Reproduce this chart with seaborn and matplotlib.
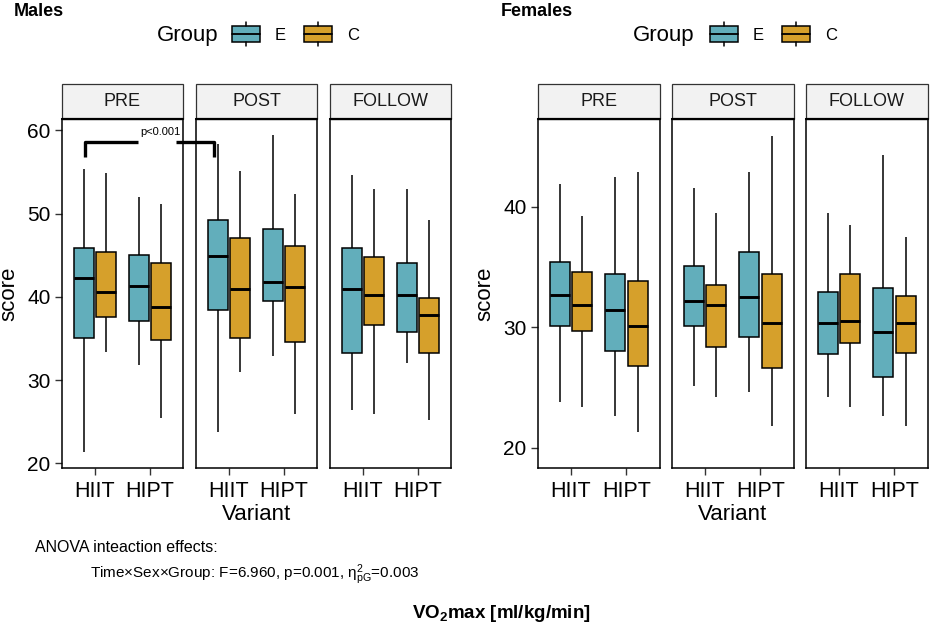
import numpy as np
import pandas as pd
import matplotlib
matplotlib.use('Agg')
import matplotlib.pyplot as plt
import seaborn as sns
from matplotlib.legend_handler import HandlerBase
from matplotlib.patches import Rectangle, Patch
from matplotlib.lines import Line2D

sns.set_theme(style='white')
plt.rcParams['font.family'] = ['Liberation Sans', 'DejaVu Sans']
plt.rcParams['mathtext.fontset'] = 'custom'
plt.rcParams['mathtext.rm'] = 'Liberation Sans'
plt.rcParams['mathtext.it'] = 'Liberation Sans:italic'
plt.rcParams['mathtext.bf'] = 'Liberation Sans:bold'
plt.rcParams['text.color'] = 'black'
plt.rcParams['axes.labelcolor'] = 'black'

# categorias
times = ['PRE', 'POST', 'FOLLOW']
variants = ['HIIT', 'HIPT']
groups = ['E', 'C']
cores = {'E': '#62AEBB', 'C': '#D6A02B'}

# resumo de 5 numeros: min, q1, mediana, q3, max
# ordem: PRE-HIIT, PRE-HIPT, POST-HIIT, POST-HIPT, FOLLOW-HIIT, FOLLOW-HIPT
males_E = [[21.3, 35.1, 42.2, 45.9, 55.4],
           [31.8, 37.1, 41.35, 45.0, 52.0],
           [23.8, 38.4, 44.95, 49.2, 58.3],
           [32.9, 39.5, 41.75, 48.1, 59.4],
           [26.4, 33.3, 40.9, 45.9, 54.6],
           [32.1, 35.8, 40.2, 44.1, 52.9]]
males_C = [[33.35, 37.6, 40.55, 45.4, 54.9],
           [25.5, 34.75, 38.8, 44.0, 51.15],
           [31.0, 35.1, 40.9, 47.1, 55.1],
           [25.95, 34.55, 41.2, 46.1, 52.3],
           [25.95, 36.55, 40.2, 44.8, 52.9],
           [25.15, 33.3, 37.8, 39.9, 49.2]]
females_E = [[23.8, 30.1, 32.7, 35.4, 41.85],
             [22.6, 28.0, 31.4, 34.4, 42.45],
             [25.1, 30.1, 32.15, 35.1, 41.5],
             [24.65, 29.2, 32.5, 36.2, 42.9],
             [24.2, 27.8, 30.3, 32.9, 39.45],
             [22.6, 25.9, 29.6, 33.25, 44.3]]
females_C = [[23.4, 29.7, 31.8, 34.6, 39.2],
             [21.3, 26.8, 30.1, 33.8, 42.9],
             [24.2, 28.35, 31.8, 33.5, 39.45],
             [21.8, 26.6, 30.3, 34.4, 45.85],
             [23.4, 28.7, 30.5, 34.4, 38.45],
             [21.8, 27.85, 30.3, 32.6, 37.5]]

males_yticks = [20, 30, 40, 50, 60]
females_yticks = [20, 30, 40]

# monta dataframe longo
linhas = []
for sexo, dados in [('Males', {'E': males_E, 'C': males_C}),
                    ('Females', {'E': females_E, 'C': females_C})]:
    for g in groups:
        k = 0
        for t in times:
            for v in variants:
                for val in dados[g][k]:
                    linhas.append((sexo, t, v, g, val))
                k += 1
df = pd.DataFrame(linhas, columns=['Sex', 'Time', 'Variant', 'Group', 'score'])


class BoxKeyHandler(HandlerBase):
    def create_artists(self, legend, orig_handle, xdescent, ydescent,
                       width, height, fontsize, trans):
        x0 = -xdescent
        mid = -ydescent + height / 2
        rect = Rectangle((x0, mid - 0.68 * height), width, 1.36 * height,
                         facecolor=orig_handle.get_facecolor(), edgecolor='black',
                         lw=1.1, transform=trans)
        med = Line2D([x0, x0 + width], [mid, mid], color='black', lw=1.3, transform=trans)
        wt = Line2D([x0 + width / 2] * 2, [mid + 0.68 * height, mid + 1.02 * height],
                    color='black', lw=1.1, transform=trans)
        wb = Line2D([x0 + width / 2] * 2, [mid - 0.68 * height, mid - 1.02 * height],
                    color='black', lw=1.1, transform=trans)
        return [rect, med, wt, wb]


W, H = 931, 632
fig = plt.figure(figsize=(W / 100, H / 100), dpi=100)
fig.patch.set_facecolor('white')

bottom_px, top_px = 468.3, 119.0
strip_h = (119.0 - 84.3) / (bottom_px - top_px)

layout = {
    'Males': dict(lefts=[61.7, 195.7, 329.7], w=121.5, ylim=(19.4, 61.35),
                  yticks=males_yticks, title_x=14, group_x=157, key_x=232,
                  score_x=9, variant_x=256.5),
    'Females': dict(lefts=[537.7, 671.7, 805.7], w=122.0, ylim=(18.29, 47.26),
                    yticks=females_yticks, title_x=501, group_x=633, key_x=710,
                    score_x=485, variant_x=733),
}

axes = {}
for sexo, cfg in layout.items():
    for i, t in enumerate(times):
        ax = fig.add_axes([cfg['lefts'][i] / W, 1 - bottom_px / H,
                           cfg['w'] / W, (bottom_px - top_px) / H])
        ax.set_facecolor('none')
        sub = df[(df['Sex'] == sexo) & (df['Time'] == t)]
        sns.boxplot(data=sub, x='Variant', y='score', hue='Group',
                    order=variants, hue_order=groups, palette=cores, saturation=1,
                    whis=np.inf, width=0.8, gap=0.1, linewidth=1.1,
                    linecolor='black', showcaps=False,
                    medianprops=dict(linewidth=2.1), legend=False, ax=ax)
        ax.set_xlim(-0.6, 1.6)
        ax.set_ylim(cfg['ylim'])
        ax.set_xlabel('')
        ax.set_ylabel('')
        for s in ax.spines.values():
            s.set_visible(True)
            s.set_color('black')
            s.set_linewidth(1.1)
        ax.tick_params(axis='x', bottom=True, direction='out', length=5, width=1.0,
                       color='#333333', labelsize=15.5, pad=4, labelcolor='black')
        if i == 0:
            ax.set_yticks(cfg['yticks'])
            ax.tick_params(axis='y', left=True, direction='out', length=5, width=1.0,
                           color='#333333', labelsize=15, pad=3, labelcolor='black')
        else:
            ax.tick_params(axis='y', left=False, labelleft=False)
        # strip
        ax.add_patch(Rectangle((0, 1), 1, strip_h, transform=ax.transAxes, clip_on=False,
                               facecolor='#F2F2F2', edgecolor='#333333', lw=0.9, zorder=3))
        ax.plot([0, 1], [1, 1], transform=ax.transAxes, color='black', lw=1.6,
                clip_on=False, zorder=4)
        ax.text(0.5, 1 + strip_h / 2, t, transform=ax.transAxes, ha='center', va='center',
                fontsize=13, color='#1a1a1a')
        axes[(sexo, t)] = ax

    # titulos e legendas
    fig.text(cfg['title_x'] / W, 1 - 11 / H, sexo, fontsize=13, fontweight='bold',
             ha='left', va='center')
    fig.text(cfg['group_x'] / W, 1 - 35 / H, 'Group', fontsize=16, ha='left', va='center')
    handles = [Patch(facecolor=cores[g], edgecolor='black') for g in groups]
    fig.legend(handles, groups, loc='center left', bbox_to_anchor=(cfg['key_x'] / W, 1 - 35 / H),
               ncol=2, frameon=False, borderpad=0, borderaxespad=0, fontsize=12,
               handlelength=1.68, handleheight=0.7, handletextpad=0.9, columnspacing=1.1,
               handler_map={Patch: BoxKeyHandler()})
    fig.text(cfg['score_x'] / W, 1 - 293.6 / H, 'score', rotation=90, fontsize=16,
             ha='center', va='center')
    fig.text(cfg['variant_x'] / W, 1 - 515 / H, 'Variant', fontsize=16,
             ha='center', va='center')

# colchete de significancia PRE vs POST (homens, HIIT E)
ax_pre = axes[('Males', 'PRE')]
ax_post = axes[('Males', 'POST')]
ax_pre.set_zorder(5)
y_bar, y_tip = 58.6, 56.8
xl = -0.18
xr = ax_pre.transData.inverted().transform(ax_post.transData.transform((-0.26, y_bar)))[0]
x_txt = 1.18
kw = dict(color='black', lw=2.4, clip_on=False, solid_capstyle='butt', zorder=5)
ax_pre.plot([xl, xl, x_txt - 0.4], [y_tip, y_bar, y_bar], **kw)
ax_pre.plot([x_txt + 0.285, xr, xr], [y_bar, y_bar, y_tip], **kw)
ax_pre.text(x_txt, y_bar + 0.6, 'p<0.001', fontsize=8, ha='center', va='bottom',
            clip_on=False, zorder=5)

# texto inferior
fig.text(35 / W, 1 - 548 / H, 'ANOVA inteaction effects:', fontsize=11.5,
         ha='left', va='center')
fig.text(90 / W, 1 - 575 / H,
         r'Time×Sex×Group: F=6.960, p=0.001, $\mathregular{\eta^{2}_{pG}}$=0.003',
         fontsize=11, ha='left', va='center')
fig.text(501.5 / W, 1 - 613 / H, r'VO$_{\mathbf{2}}$max [ml/kg/min]', fontsize=13.5,
         fontweight='bold', ha='center', va='center')

plt.savefig('out.png', dpi=100, facecolor='white')
